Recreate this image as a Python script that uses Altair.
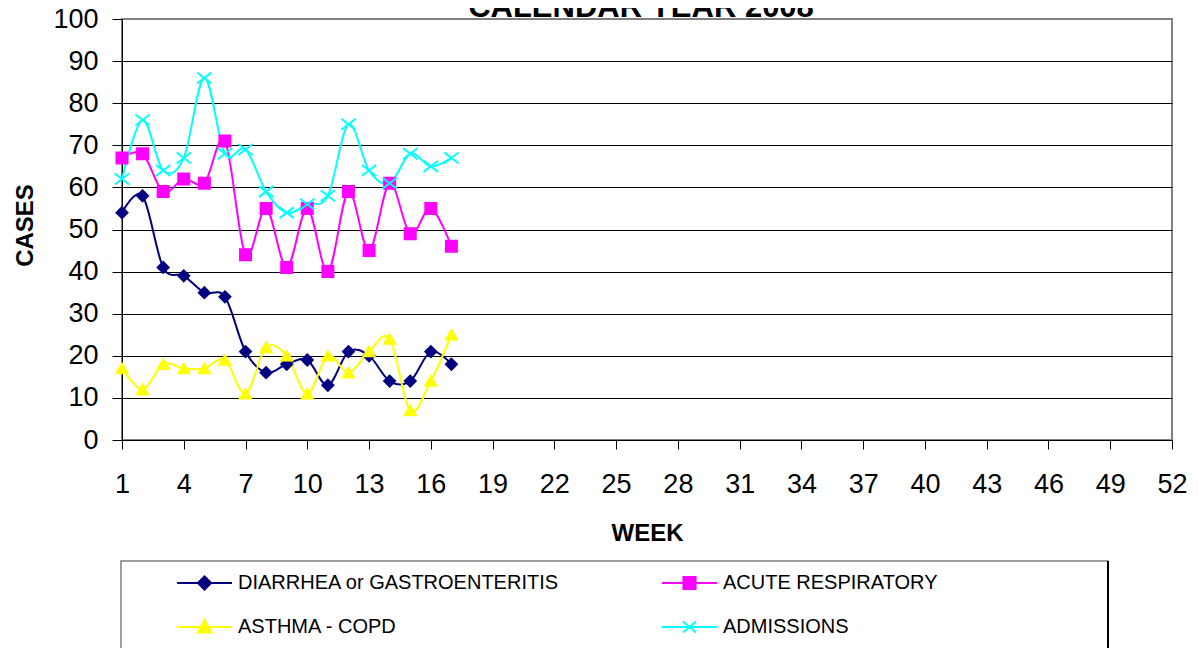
import altair as alt
import pandas as pd

# ---- data ----
weeks = list(range(1, 18))
diarrhea = [54, 58, 41, 39, 35, 34, 21, 16, 18, 19, 13, 21, 20, 14, 14, 21, 18]
acute = [67, 68, 59, 62, 61, 71, 44, 55, 41, 55, 40, 59, 45, 61, 49, 55, 46]
asthma = [17, 12, 18, 17, 17, 19, 11, 22, 20, 11, 20, 16, 21, 24, 7, 14, 25]
admissions = [62, 76, 64, 67, 86, 68, 69, 59, 54, 56, 58, 75, 64, 61, 68, 65, 67]

series_names = ["DIARRHEA or GASTROENTERITIS", "ACUTE RESPIRATORY", "ASTHMA - COPD", "ADMISSIONS"]
series_values = [diarrhea, acute, asthma, admissions]
colors = ["#000080", "#FF00FF", "#FFFF00", "#00FFFF"]

x_ticks = list(range(1, 53, 3))
y_ticks = list(range(0, 101, 10))

title_text = "CALENDAR YEAR 2008"

rows = []
for name, vals in zip(series_names, series_values):
    for w, v in zip(weeks, vals):
        rows.append({"week": w, "cases": v, "series": name})
df = pd.DataFrame(rows)

FONT = "Liberation Sans"

point_shapes = ["diamond", "square", "triangle-up", "M-1.3,-1L1.3,1M-1.3,1L1.3,-1"]
legend_shapes = [
    "M-1,0H1M-0.24,0L0,-0.24L0.24,0L0,0.24Z",
    "M-1,0H1M-0.22,-0.22H0.22V0.22H-0.22Z",
    "M-1,0H1M0,-0.26L0.25,0.2L-0.25,0.2Z",
    "M-1,0H1M-0.24,-0.2L0.24,0.2M-0.24,0.2L0.24,-0.2",
]

x_enc = alt.X(
    "week:Q",
    scale=alt.Scale(domain=[1, 52], nice=False, zero=False),
    axis=alt.Axis(
        values=x_ticks, title="WEEK", grid=False, tickSize=9, labelPadding=22,
        labelFontSize=27, titleFontSize=24, titleY=100, titleBaseline="alphabetic",
        labelFlush=False, labelOverlap=False, format="d",
    ),
)
y_enc = alt.Y(
    "cases:Q",
    scale=alt.Scale(domain=[0, 100], nice=False),
    axis=alt.Axis(
        values=y_ticks, title="CASES", grid=True,
        gridColor={"condition": {"test": "datum.value === 100", "value": "#808080"}, "value": "#000000"},
        gridWidth=1, tickSize=10, labelPadding=14, labelFontSize=27,
        titleFontSize=24, titleX=-90, titleY=206, titleAngle=270,
        titleBaseline="alphabetic", labelFlush=False, labelOverlap=False,
    ),
)

base = alt.Chart(df)

lines = base.mark_line(interpolate="cardinal", strokeWidth=2).encode(
    x=x_enc,
    y=y_enc,
    color=alt.Color("series:N", scale=alt.Scale(domain=series_names, range=colors), legend=None),
)

points = base.mark_point(filled=True, opacity=1, size=121, strokeWidth=2).encode(
    x=x_enc,
    y=y_enc,
    shape=alt.Shape("series:N", scale=alt.Scale(domain=series_names, range=point_shapes), legend=None),
    fill=alt.Fill("series:N", scale=alt.Scale(domain=series_names, range=colors), legend=None),
    stroke=alt.Stroke("series:N", scale=alt.Scale(domain=series_names, range=colors), legend=None),
)

leg = alt.Legend(
    orient="none", legendX=54, legendY=552, columns=2, direction="horizontal",
    columnPadding=101, rowPadding=20, clipHeight=24, symbolSize=3025,
    symbolStrokeWidth=2, labelFontSize=20, labelFont=FONT, labelColor="black",
    labelOffset=5, labelLimit=600, padding=0, title=None, symbolOpacity=1,
)

legend_layer = base.transform_filter("false").mark_point(filled=True, opacity=1, strokeWidth=2).encode(
    x=x_enc,
    y=y_enc,
    shape=alt.Shape("series:N", scale=alt.Scale(domain=series_names, range=legend_shapes), legend=leg),
    fill=alt.Fill("series:N", scale=alt.Scale(domain=series_names, range=colors), legend=leg),
    stroke=alt.Stroke("series:N", scale=alt.Scale(domain=series_names, range=colors), legend=leg),
)

one = alt.Chart(pd.DataFrame({"k": [0]}))

frame = one.mark_rect(fill="transparent", stroke="#808080", strokeWidth=1.5).encode(
    x=alt.value(-1), x2=alt.value(986), y=alt.value(542), y2=alt.value(690)
)
frame_right = one.mark_rule(color="black", strokeWidth=2).encode(
    x=alt.value(986), y=alt.value(542), y2=alt.value(690)
)

title = one.mark_text(
    text=title_text, font=FONT, fontSize=31, fontWeight="bold",
    baseline="alphabetic", align="center", color="black",
).encode(x=alt.value(519), y=alt.value(-2))

chart = (
    alt.layer(lines, points, legend_layer, frame, frame_right, title)
    .resolve_scale(shape="independent", fill="independent", stroke="independent")
    .properties(
        width=1050,
        height=421,
        autosize=alt.AutoSizeParams(type="none"),
        padding={"left": 114, "top": 11, "right": 18, "bottom": 208},
    )
    .configure_view(stroke="#808080", strokeWidth=2)
    .configure_axis(
        labelFont=FONT, labelColor="black", tickColor="black", domainColor="black",
        titleFont=FONT, titleFontWeight="bold", titleColor="black", tickWidth=1,
    )
)

chart.save("out.html", embed_options={"renderer": "svg", "actions": False})
